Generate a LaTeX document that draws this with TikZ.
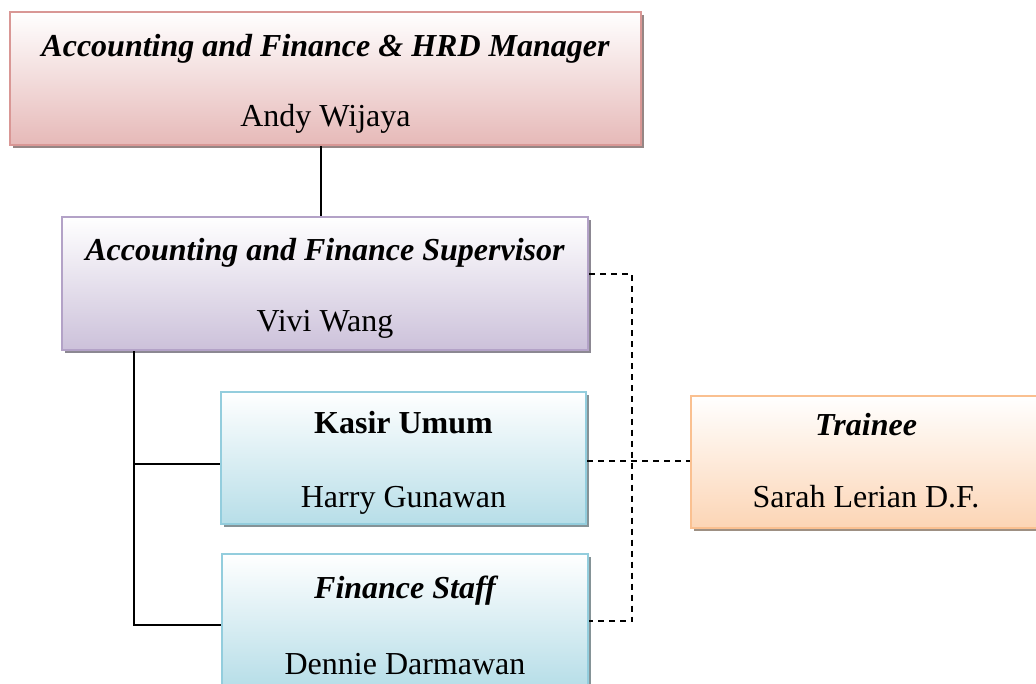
\documentclass[tikz,border=0pt]{standalone}
\usepackage{fontspec}
\setmainfont{Liberation Serif}
\usetikzlibrary{shadows}
\definecolor{mgrfill}{HTML}{E6B9B8}
\definecolor{mgrline}{HTML}{D99795}
\definecolor{supfill}{HTML}{CCC1DA}
\definecolor{supline}{HTML}{B3A2C7}
\definecolor{stafffill}{HTML}{B7DEE8}
\definecolor{staffline}{HTML}{93CDDD}
\definecolor{trainfill}{HTML}{FCD5B5}
\definecolor{trainline}{HTML}{FAC090}
\begin{document}
\begin{tikzpicture}[x=1pt,y=-1pt,
	orgbox/.style 2 args={rectangle, inner sep=0pt, draw=#1, line width=2.5pt,
		top color=white, bottom color=#2,
		drop shadow={shadow xshift=3pt, shadow yshift=-3pt, fill=#2!50!black, opacity=0.75}},
	jobtitle/.style={anchor=base, font=\fontsize{32}{38}\selectfont\bfseries\itshape},
	person/.style={anchor=base, font=\fontsize{32}{38}\selectfont},
	conn/.style={line width=2pt, black},
	dashconn/.style={line width=2pt, black, dash pattern=on 6pt off 5pt}]
	\useasboundingbox (0,0) rectangle (1036,684);
	% boxes
	\node[orgbox={mgrline}{mgrfill}, minimum width=631pt, minimum height=133pt] (mgr) at (325.5,78.5) {};
	\node[orgbox={supline}{supfill}, minimum width=526pt, minimum height=133pt] (sup) at (325,283.5) {};
	\node[orgbox={staffline}{stafffill}, minimum width=365pt, minimum height=132pt] (kasir) at (403.5,458) {};
	\node[orgbox={staffline}{stafffill}, minimum width=366pt, minimum height=132pt] (fin) at (405,620) {};
	\node[orgbox={trainline}{trainfill}, minimum width=350pt, minimum height=132pt] (trainee) at (866,462) {};
	% texts
	\node[jobtitle] (mgrt) at ([yshift=-46pt]mgr.north) {Accounting and Finance \& HRD Manager};
	\node[person] (mgrn) at ([yshift=-116pt]mgr.north) {Andy Wijaya};
	\node[jobtitle] (supt) at ([yshift=-45pt]sup.north) {Accounting and Finance Supervisor};
	\node[person] (supn) at ([yshift=-116pt]sup.north) {Vivi Wang};
	\node[jobtitle, font=\fontsize{32}{38}\selectfont\bfseries] (kasirt) at ([yshift=-43pt]kasir.north) {Kasir Umum};
	\node[person] (kasirn) at ([yshift=-117pt]kasir.north) {Harry Gunawan};
	\node[jobtitle] (fint) at ([yshift=-46pt]fin.north) {Finance Staff};
	\node[person] (finn) at ([yshift=-122pt]fin.north) {Dennie Darmawan};
	\node[jobtitle] (traint) at ([yshift=-41pt]trainee.north) {Trainee};
	\node[person] (trainn) at ([yshift=-113pt]trainee.north) {Sarah Lerian D.F.};
	% lines
	\coordinate (supin) at ([xshift=-4pt]sup.north);
	\coordinate (kasirin) at ([yshift=-6pt]kasir.west);
	\draw[conn] (supin |- mgr.south) -- (supin);
	\draw[conn] ([xshift=73pt]sup.south west) coordinate (trunk) |- ([yshift=-5pt]fin.west);
	\draw[conn] (trunk |- kasirin) -- (kasirin);
	\draw[dashconn] ([yshift=9pt]sup.east) -- ++(43,0) |- ([yshift=-1pt]fin.east);
	\draw[dashconn] ([yshift=-3pt]kasir.east) -- ([yshift=-3pt]kasir.east -| trainee.west);
\end{tikzpicture}
\end{document}
